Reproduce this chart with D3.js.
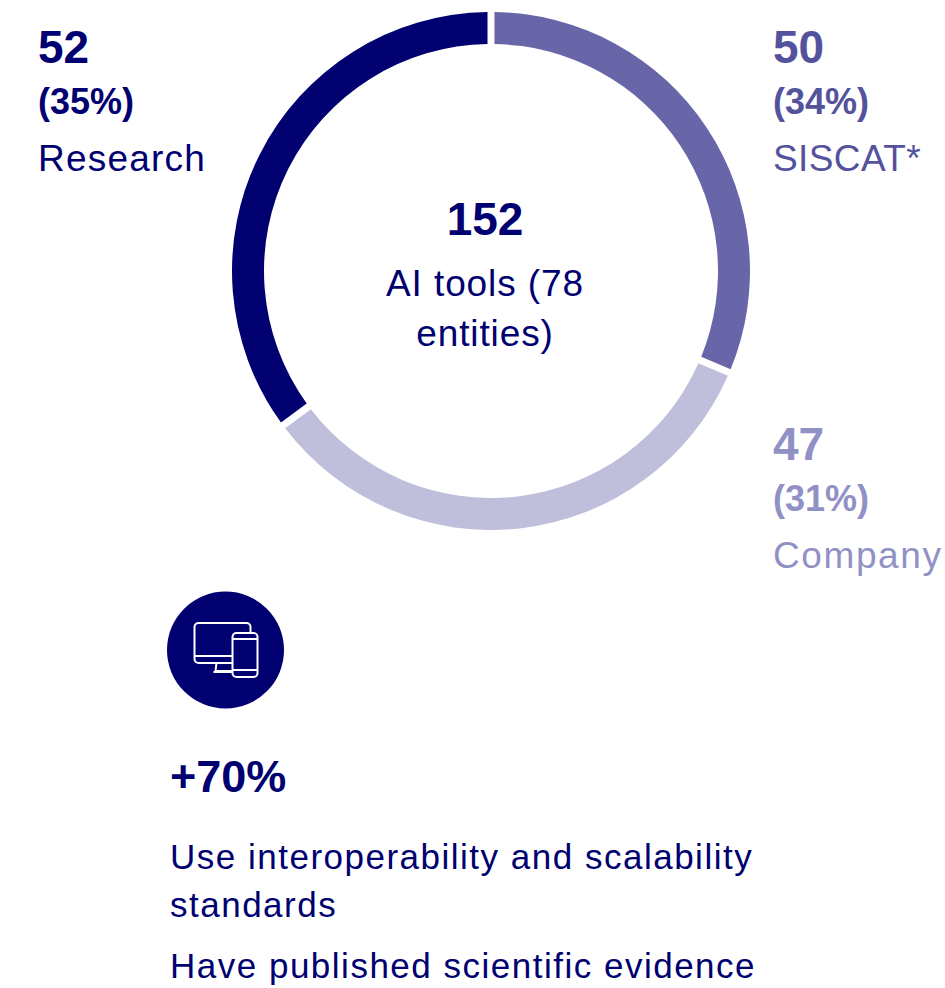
<!DOCTYPE html>
<html>
<head>
<meta charset="utf-8">
<script src="https://cdn.jsdelivr.net/npm/d3@7"></script>
<style>
  html, body { margin: 0; padding: 0; background: #fff; overflow: hidden; }
  text { font-family: "Liberation Sans", Arimo, sans-serif; }
</style>
</head>
<body>
<svg width="945" height="988"></svg>
<script>
// arc sizes as drawn in the picture, clockwise from 12 o'clock
const ringValues = [46.8, 49.8, 52.4];
const ringColors = ['#6866a8', '#bfbfdc', '#000070'];

// labels round the ring
const labelNumbers = ['52', '50', '47'];
const labelPercents = ['(35%)', '(34%)', '(31%)'];
const labelNames = ['Research', 'SISCAT*', 'Company'];
const labelColors = ['#000070', '#54529c', '#9191c6'];
const labelX = [38, 773, 773];
const labelY = [63, 63, 460];
const labelSpacing = [1.2, 0.4, 1.6];

const centerNumber = '152';
const centerLines = ['AI tools (78', 'entities)'];

const statValue = '+70%';
const statLines = ['Use interoperability and scalability', 'standards', 'Have published scientific evidence'];
const statLineY = [869, 917, 978];

const navy = '#000070';
const svg = d3.select('svg');

// donut
const ring = svg.append('g').attr('transform', 'translate(491,271)');
const pie = d3.pie().sort(null).value(d => d);
const arc = d3.arc().innerRadius(227).outerRadius(259).padRadius(259).padAngle(0.027);

ring.selectAll('path')
    .data(pie(ringValues))
    .enter()
    .append('path')
    .attr('d', arc)
    .attr('fill', (d, i) => ringColors[i]);

// centre text
svg.append('text')
    .attr('x', 485).attr('y', 235)
    .attr('text-anchor', 'middle')
    .attr('font-size', 46).attr('font-weight', 700).attr('fill', navy)
    .text(centerNumber);

svg.selectAll('.center-line')
    .data(centerLines)
    .enter()
    .append('text')
    .attr('x', 485)
    .attr('y', (d, i) => 296 + i * 50)
    .attr('text-anchor', 'middle')
    .attr('font-size', 37).attr('letter-spacing', 0.9).attr('fill', navy)
    .text(d => d);

// labels
labelNumbers.forEach((n, i) => {
    const g = svg.append('g').attr('fill', labelColors[i]);
    g.append('text').attr('x', labelX[i]).attr('y', labelY[i])
        .attr('font-size', 46).attr('font-weight', 700).text(n);
    g.append('text').attr('x', labelX[i]).attr('y', labelY[i] + 51)
        .attr('font-size', 36).attr('font-weight', 700).text(labelPercents[i]);
    g.append('text').attr('x', labelX[i]).attr('y', labelY[i] + 108)
        .attr('font-size', 37).attr('letter-spacing', labelSpacing[i]).text(labelNames[i]);
});

// device icon
const icon = svg.append('g').attr('transform', 'translate(225.5,650)');
icon.append('circle').attr('r', 58.5).attr('fill', navy);
const line = icon.append('g').attr('fill', 'none').attr('stroke', '#fff').attr('stroke-width', 2);
line.append('path').attr('d', 'M7,13H-27a4,4 0 0 1 -4,-4V-23a4,4 0 0 1 4,-4H21a4,4 0 0 1 4,4V-17');
line.append('path').attr('d', 'M-31,6H7');
line.append('path').attr('d', 'M-9,13L-10,21H7M-12,22H7');
line.append('rect').attr('x', 7).attr('y', -17).attr('width', 25).attr('height', 44).attr('rx', 4).attr('fill', navy);
line.append('path').attr('d', 'M7,-11H32M7,20H32');

// bottom stat
svg.append('text')
    .attr('x', 170).attr('y', 792)
    .attr('font-size', 45).attr('font-weight', 700).attr('fill', navy)
    .text(statValue);

svg.selectAll('.stat-line')
    .data(statLines)
    .enter()
    .append('text')
    .attr('x', 170)
    .attr('y', (d, i) => statLineY[i])
    .attr('font-size', 35).attr('letter-spacing', 1.5).attr('fill', navy)
    .text(d => d);
</script>
</body>
</html>
